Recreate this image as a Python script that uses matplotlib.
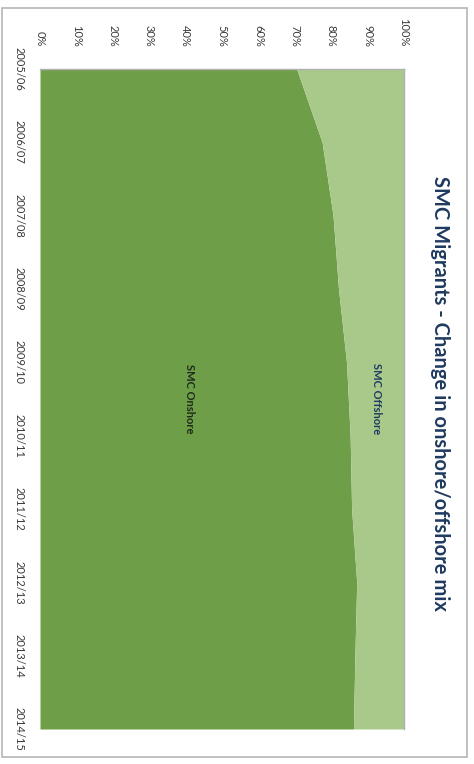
import numpy as np
import matplotlib
matplotlib.use("Agg")
import matplotlib.pyplot as plt
from matplotlib.patches import Rectangle

# chart is stored rotated 90 deg clockwise: years run down, percent runs across
years = ["2005/06", "2006/07", "2007/08", "2008/09", "2009/10",
         "2010/11", "2011/12", "2012/13", "2013/14", "2014/15"]
onshore = [70.5, 77.5, 80.5, 82.0, 84.2, 85.2, 85.6, 87.0, 86.5, 86.1]
offshore = [29.5, 22.5, 19.5, 18.0, 15.8, 14.8, 14.4, 13.0, 13.5, 13.9]
pct_ticks = [0, 10, 20, 30, 40, 50, 60, 70, 80, 90, 100]

col_on = "#6f9e48"
col_off = "#a9c98a"
navy = "#1f3a5f"
plt.rcParams["font.family"] = ["Lato", "DejaVu Sans"]

fig = plt.figure(figsize=(4.74, 7.64), dpi=100)
fig.patches.append(Rectangle((0.004, 0.009), 0.981, 0.980, transform=fig.transFigure,
                             fill=False, edgecolor="#b5b5b5", linewidth=1.2))

ax = fig.add_axes([0.0844, 0.0458, 0.768, 0.864])
idx = np.arange(len(years))
on = np.array(onshore)
off = np.array(offshore)
ax.fill_betweenx(idx, 0, on, color=col_on, linewidth=0)
ax.fill_betweenx(idx, on, on + off, color=col_off, linewidth=0)

ax.set_xlim(0, 100)
ax.set_ylim(len(years) - 1, 0)

ax.xaxis.tick_top()
ax.set_xticks(pct_ticks)
ax.set_xticklabels([f"{p}%" for p in pct_ticks], rotation=-90, fontsize=8, color="#3a3a3a")
ax.tick_params(axis="x", length=0, pad=16)
ax.set_yticks(idx)
ax.set_yticklabels(years, rotation=-90, fontsize=8, color="#3a3a3a", va="center")
ax.tick_params(axis="y", length=0, pad=11)
for s in ["left", "bottom"]:
    ax.spines[s].set_visible(False)
for s in ["top", "right"]:
    ax.spines[s].set_color("#b0b0b0")
    ax.spines[s].set_linewidth(1)

ax.text(41, 4.5, "SMC Onshore", rotation=-90, ha="center", va="center",
        fontsize=8, fontweight="bold", color="#1c2b1c")
ax.text(92.5, 4.5, "SMC Offshore", rotation=-90, ha="center", va="center",
        fontsize=8, fontweight="bold", color=navy)

fig.text(0.928, 0.485, "SMC Migrants - Change in onshore/offshore mix", rotation=-90,
         ha="center", va="center", fontsize=14.5, fontweight="bold", color=navy)

fig.savefig("out.png", dpi=100)
